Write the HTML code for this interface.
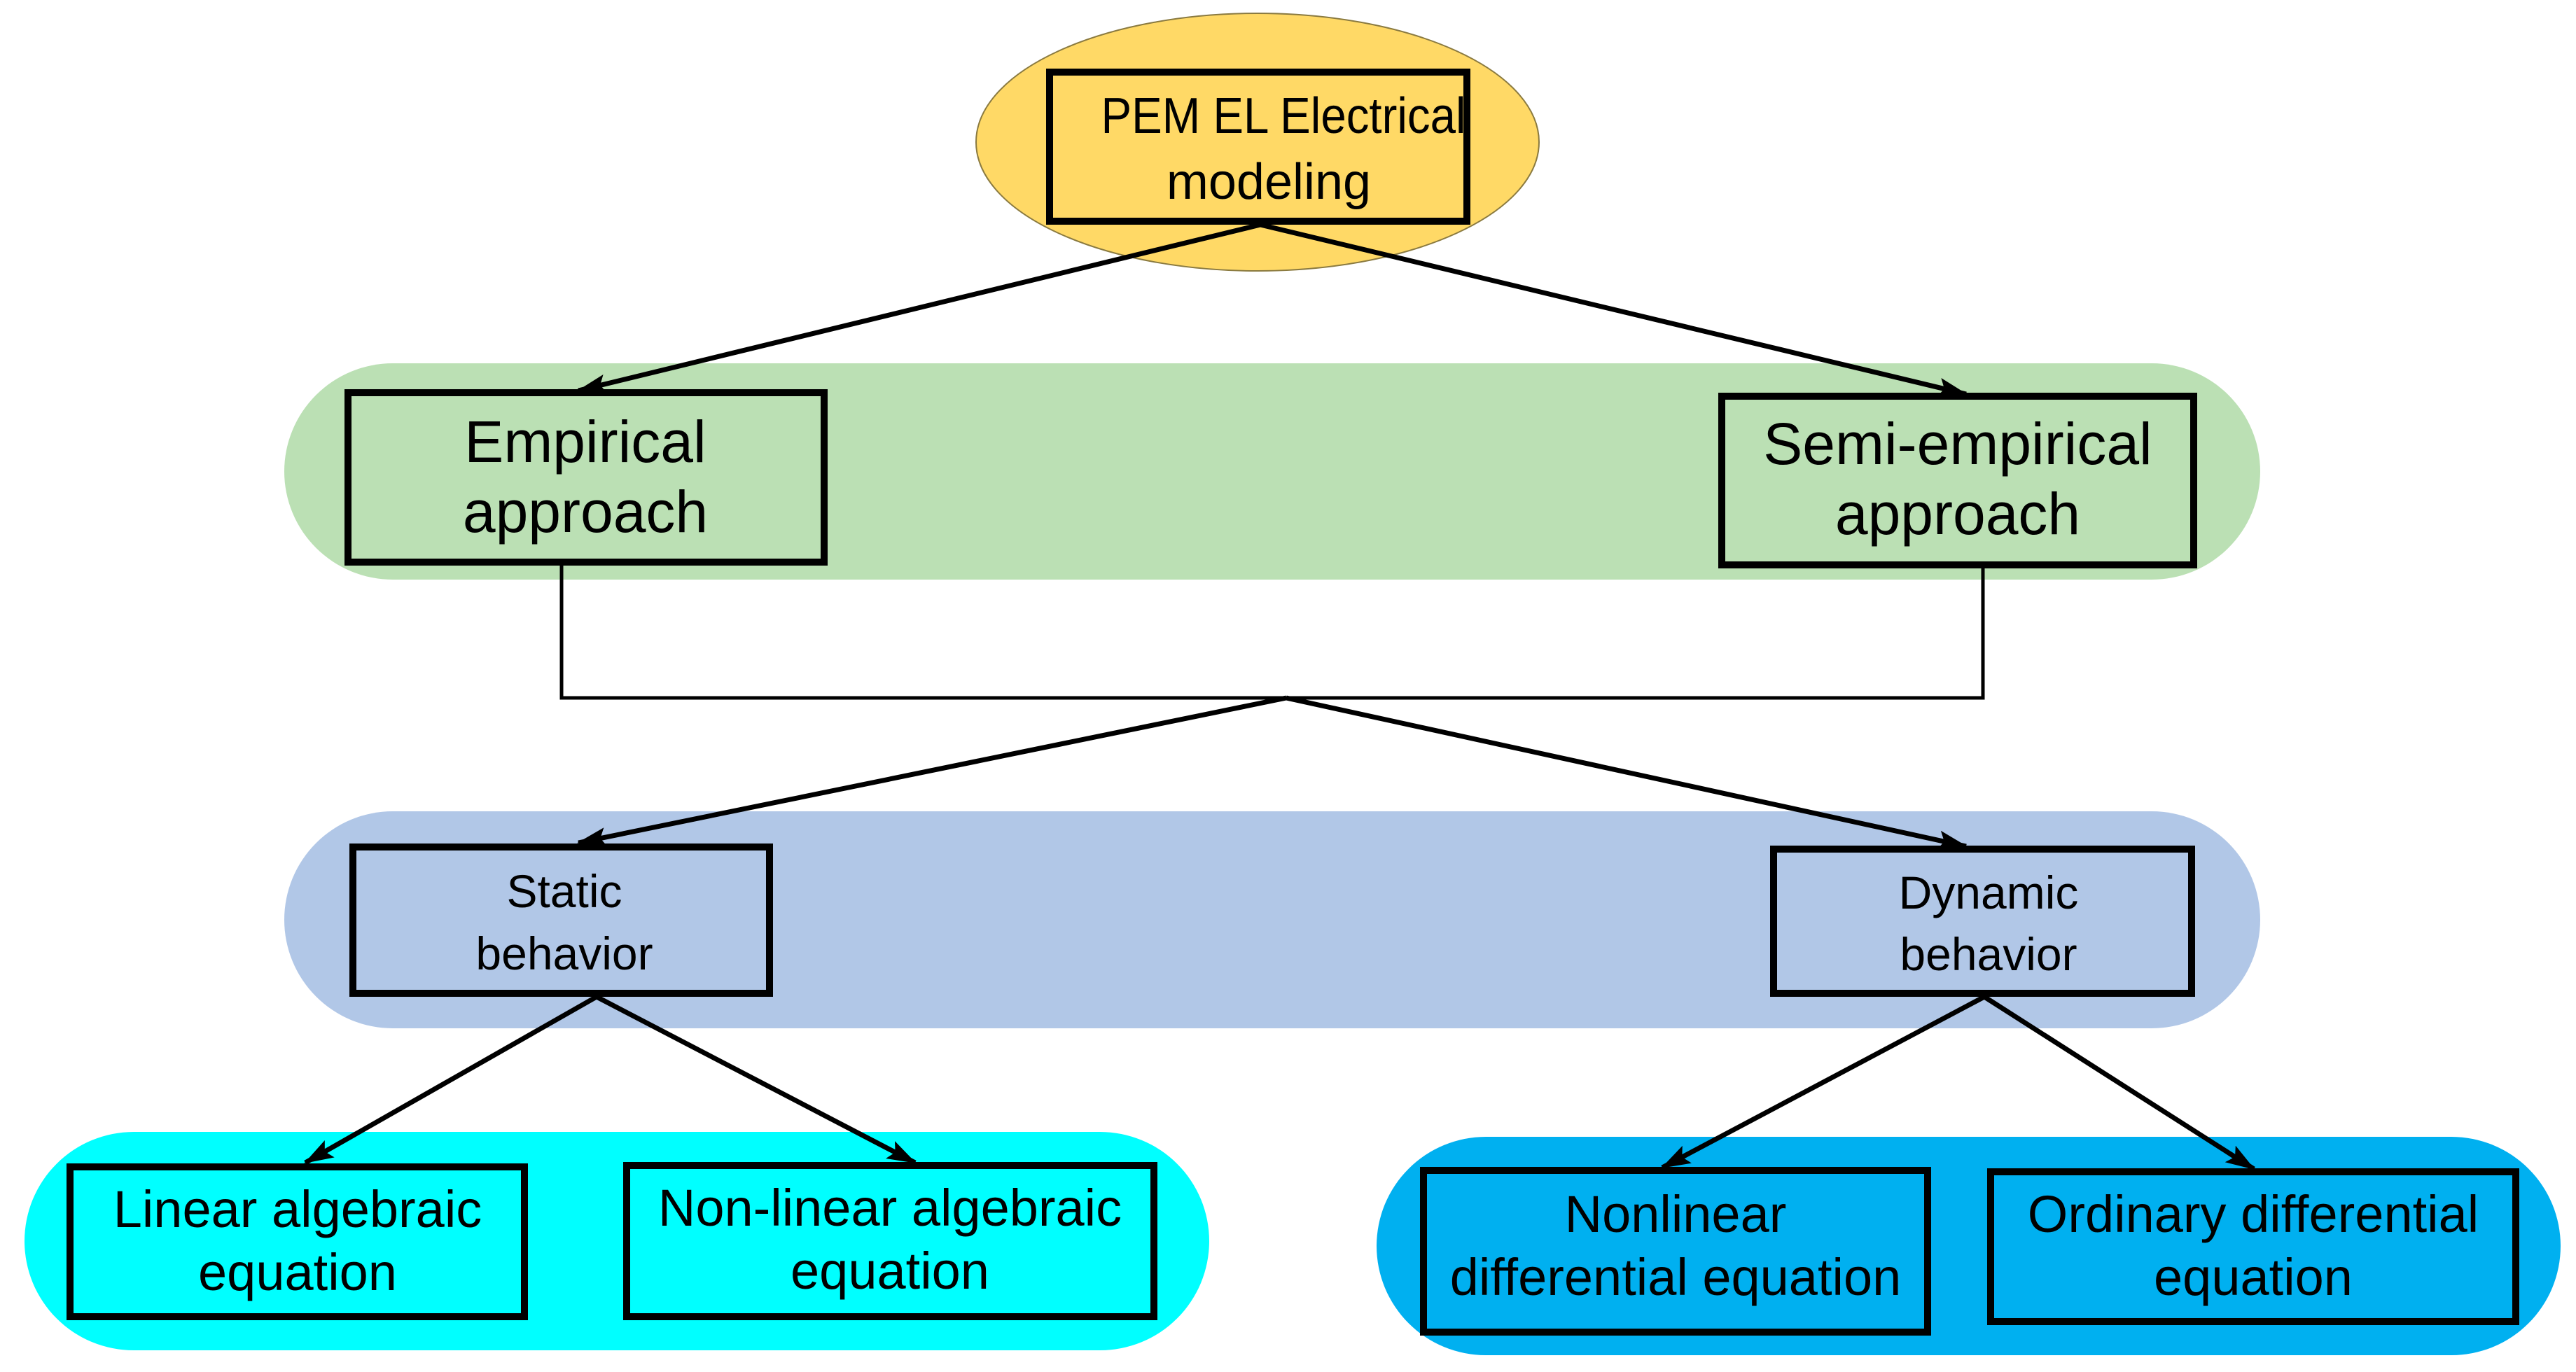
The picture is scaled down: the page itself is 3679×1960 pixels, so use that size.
<!DOCTYPE html>
<html><head><meta charset="utf-8"><style>
html,body{margin:0;padding:0;background:#fff;}
svg{display:block;}
text{font-family:"Liberation Sans",Arial,sans-serif;fill:#000;text-anchor:middle;}
</style></head><body>
<svg width="3679" height="1960" viewBox="0 0 3679 1960" xmlns="http://www.w3.org/2000/svg">
<defs>
<marker id="ah" markerWidth="42" markerHeight="32" refX="40" refY="16" orient="auto" markerUnits="userSpaceOnUse" viewBox="0 0 42 32">
<polygon points="0,2 42,16 0,30 8,16" fill="#000"/>
</marker>
</defs>
<rect x="406" y="519" width="2822" height="309" rx="155" fill="#bbe0b4"/>
<rect x="406" y="1159" width="2822" height="310" rx="155" fill="#b1c7e7"/>
<rect x="35" y="1617" width="1692" height="312" rx="156" fill="#00ffff"/>
<rect x="1966" y="1624" width="1691" height="312" rx="156" fill="#00b0f0"/>
<ellipse cx="1796" cy="203" rx="402" ry="184" fill="#ffd966" stroke="#8a7a40" stroke-width="2"/>
<g stroke="#000" stroke-width="7" fill="none" marker-end="url(#ah)">
<line x1="1800" y1="321" x2="826" y2="558"/>
<line x1="1800" y1="321" x2="2808" y2="563"/>
<line x1="1837" y1="997" x2="826" y2="1204"/>
<line x1="1837" y1="997" x2="2808" y2="1209"/>
<line x1="852" y1="1424" x2="436" y2="1661"/>
<line x1="852" y1="1424" x2="1307" y2="1661"/>
<line x1="2834" y1="1424" x2="2374" y2="1668"/>
<line x1="2834" y1="1424" x2="3219" y2="1670"/>
</g>
<polyline points="802,807 802,997 2832,997 2832,809" stroke="#000" stroke-width="5" fill="none"/>
<g stroke="#000" stroke-width="10">
<rect x="1499" y="103" width="596" height="213" fill="#ffd966"/>
<rect x="497" y="561" width="680" height="242" fill="#bbe0b4"/>
<rect x="2459" y="566" width="674" height="241" fill="#bbe0b4"/>
<rect x="504" y="1210" width="595" height="209" fill="#b1c7e7"/>
<rect x="2533" y="1213" width="597" height="206" fill="#b1c7e7"/>
<rect x="100" y="1667" width="649" height="214" fill="#00ffff"/>
<rect x="895" y="1665" width="753" height="216" fill="#00ffff"/>
<rect x="2033" y="1672" width="720" height="231" fill="#00b0f0"/>
<rect x="2843" y="1674" width="750" height="214" fill="#00b0f0"/>
</g>
<text x="1833" y="190" font-size="72" textLength="521" lengthAdjust="spacingAndGlyphs">PEM EL Electrical</text>
<text x="1812" y="284" font-size="72">modeling</text>
<text x="836" y="660" font-size="84">Empirical</text>
<text x="836" y="760" font-size="84">approach</text>
<text x="2796" y="663" font-size="84">Semi-empirical</text>
<text x="2796" y="763" font-size="84">approach</text>
<text x="806" y="1296" font-size="66">Static</text>
<text x="806" y="1385" font-size="66">behavior</text>
<text x="2840" y="1298" font-size="66">Dynamic</text>
<text x="2840" y="1386" font-size="66">behavior</text>
<text x="425" y="1753" font-size="74">Linear algebraic</text>
<text x="425" y="1843" font-size="74">equation</text>
<text x="1271" y="1751" font-size="74">Non-linear algebraic</text>
<text x="1271" y="1841" font-size="74">equation</text>
<text x="2393" y="1760" font-size="74">Nonlinear</text>
<text x="2393" y="1850" font-size="74">differential equation</text>
<text x="3218" y="1760" font-size="74">Ordinary differential</text>
<text x="3218" y="1850" font-size="74">equation</text>
</svg>
</body></html>
